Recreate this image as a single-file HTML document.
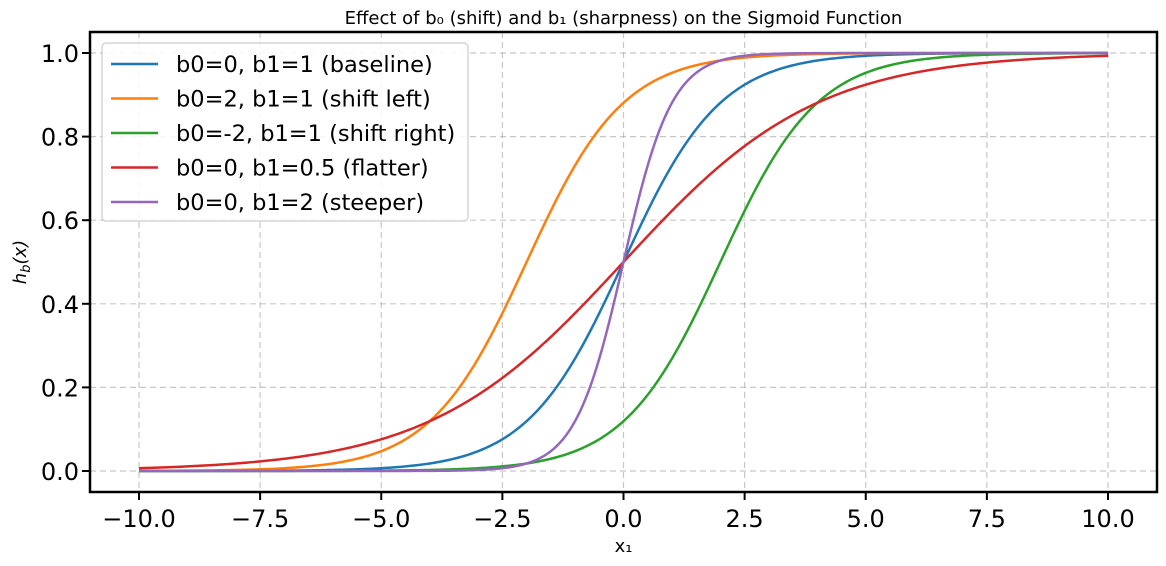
<!DOCTYPE html>
<html><head><meta charset="utf-8"><style>
body{margin:0;background:#fff;}
svg{display:block;font-family:"DejaVu Sans","Liberation Sans",sans-serif;}
</style></head><body>
<svg id="chart" width="1166" height="566"></svg>
<script>
const b0s=[0,2,-2,0,0];
const b1s=[1,1,1,0.5,2];
const labels=["b0=0, b1=1 (baseline)","b0=2, b1=1 (shift left)","b0=-2, b1=1 (shift right)","b0=0, b1=0.5 (flatter)","b0=0, b1=2 (steeper)"];
const names=["baseline","shift-left","shift-right","flatter","steeper"];
const colors=["#1f77b4","#ff7f0e","#2ca02c","#d62728","#9467bd"];
const xTicks=[-10,-7.5,-5,-2.5,0,2.5,5,7.5,10];
const xTickLabels=["−10.0","−7.5","−5.0","−2.5","0.0","2.5","5.0","7.5","10.0"];
const yTicks=[0,0.2,0.4,0.6,0.8,1.0];
const yTickLabels=["0.0","0.2","0.4","0.6","0.8","1.0"];
const xMin=-10,xMax=10;

const L=90,R=1157,T=32,B=492;
const X=v=>623.5+v*48.45;
const Y=v=>471-v*418;
const svg=document.getElementById('chart');
const NS='http://www.w3.org/2000/svg';
function mk(t,a,p){const e=document.createElementNS(NS,t);for(const k in a)e.setAttribute(k,a[k]);(p||svg).appendChild(e);return e;}

xTicks.forEach((t,i)=>{
 const g=mk('line',{x1:X(t),x2:X(t),y1:T,y2:B,stroke:'#b0b0b0','stroke-width':1.2,'stroke-dasharray':'6,4',opacity:0.7});
 
 
 const tk=mk('line',{x1:X(t),x2:X(t),y1:B,y2:B+8,stroke:'#000','stroke-width':2});
 
 
 const tx=mk('text',{x:X(t),y:B+35,'text-anchor':'middle','font-size':24,fill:'#000'});
 tx.textContent=xTickLabels[i];
 
 
});
yTicks.forEach((t,i)=>{
 const g=mk('line',{x1:L,x2:R,y1:Y(t),y2:Y(t),stroke:'#b0b0b0','stroke-width':1.2,'stroke-dasharray':'6,4',opacity:0.7});
 
 
 const tk=mk('line',{x1:L-8,x2:L,y1:Y(t),y2:Y(t),stroke:'#000','stroke-width':2});
 
 
 const tx=mk('text',{x:L-11,y:Y(t)+9,'text-anchor':'end','font-size':24,fill:'#000'});
 tx.textContent=yTickLabels[i];
 
 
});

b0s.forEach((b0,i)=>{
 const b1=b1s[i];let d='';
 for(let k=0;k<=400;k++){const x=xMin+(xMax-xMin)*k/400;const y=1/(1+Math.exp(-(b0+b1*x)));d+=(k?'L':'M')+X(x).toFixed(2)+','+Y(y).toFixed(2);}
 const p=mk('path',{d:d,fill:'none',stroke:colors[i],'stroke-width':2.5});
 
 
});

const sp=mk('rect',{x:L,y:T,width:R-L,height:B-T,fill:'none',stroke:'#000','stroke-width':2.5});



const lg=mk('g',{});


mk('rect',{x:102,y:43,width:366,height:178,rx:4,fill:'#fff','fill-opacity':0.85,stroke:'#ccc','stroke-width':1.2},lg);
labels.forEach((lab,i)=>{
 const y=64+i*34.5;
 const e=mk('g',{},lg);
 
 
 mk('line',{x1:111,x2:158,y1:y,y2:y,stroke:colors[i],'stroke-width':2.5},e);
 const t=mk('text',{x:176,y:y+8,'font-size':22.5,fill:'#000'},e);
 t.textContent=lab;
});

const tt=mk('text',{x:623.5,y:24,'text-anchor':'middle','font-size':18,fill:'#000'});
tt.textContent='Effect of b₀ (shift) and b₁ (sharpness) on the Sigmoid Function';


const xl=mk('text',{x:623.5,y:552,'text-anchor':'middle','font-size':18,fill:'#000'});
xl.textContent='x₁';


const yl=mk('text',{x:0,y:0,'text-anchor':'middle','font-size':18,fill:'#000',transform:'translate(26,262) rotate(-90)','font-style':'italic'});
yl.innerHTML='h<tspan font-size="13" dy="4">b</tspan><tspan dy="-4">(x)</tspan>';


</script>
</body></html>
